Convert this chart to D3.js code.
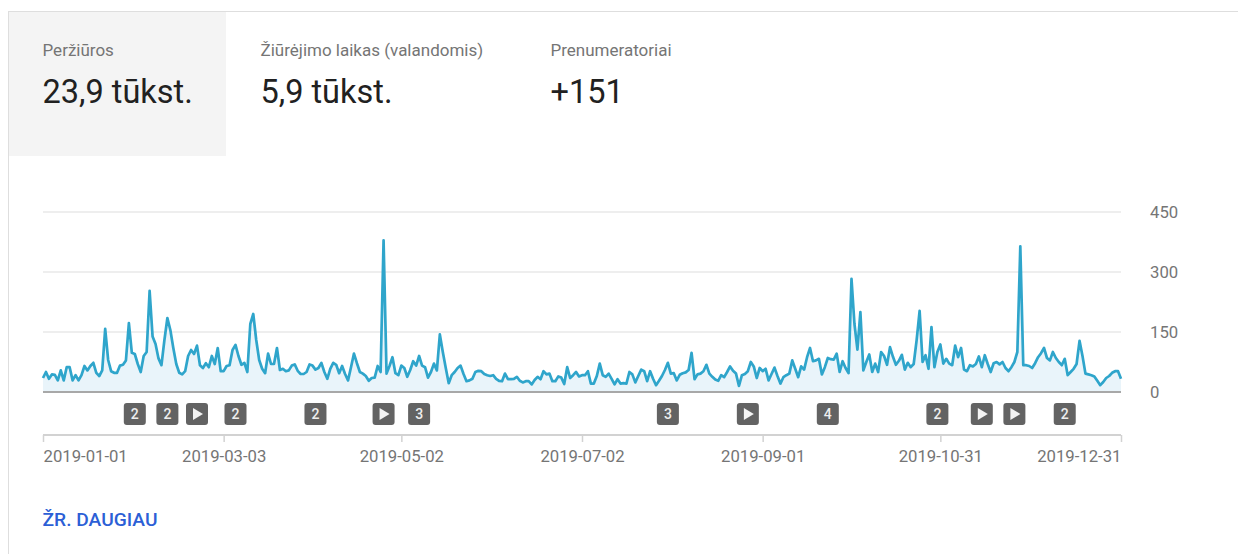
<!DOCTYPE html>
<html><head><meta charset="utf-8">
<script src="https://d3js.org/d3.v7.min.js"></script>
<style>
html,body{margin:0;padding:0;background:#fff;overflow:hidden}
svg{display:block}
text{font-family:Roboto,sans-serif}
.axisY .domain,.axisX .domain{display:none}
</style></head><body><svg id="c" width="1238" height="554"></svg>
<script>
const tabLabels = ["Peržiūros", "Žiūrėjimo laikas (valandomis)", "Prenumeratoriai"];
const tabValues = ["23,9 tūkst.", "5,9 tūkst.", "+151"];
const startDate = "2019-01-01";
const tickDates = ["2019-01-01","2019-03-03","2019-05-02","2019-07-02","2019-09-01","2019-10-31","2019-12-31"];
const yTicks = [0,150,300,450];
const moreLabel = "ŽR. DAUGIAU";
const markerDays = [31,42,52,65,92,115,127,211,238,265,302,317,328,345];
const markerLabels = ["2","2","▶","2","2","▶","3","3","▶","4","2","▶","▶","2"];
const views = [
35,50,33,44,43,29,54,29,62,62,
29,42,29,42,65,54,65,73,48,40,
54,158,80,52,48,48,66,68,79,172,
98,95,70,50,90,100,253,139,120,84,
67,130,185,155,110,70,48,44,52,90,
105,95,116,67,60,72,62,90,70,110,
52,52,65,67,105,118,90,68,73,50,
170,195,130,80,58,47,96,70,70,110,
55,58,52,54,66,69,53,45,45,50,
69,66,56,60,73,50,33,58,73,68,
47,65,45,29,62,96,72,50,46,40,
28,35,36,65,50,379,46,65,87,47,
42,66,60,38,55,77,66,90,66,62,
36,50,71,54,144,100,60,22,42,50,
60,66,45,27,29,33,50,53,52,45,
42,40,42,33,28,27,46,32,32,33,
38,28,24,27,27,19,30,38,32,52,
44,46,27,27,39,36,20,62,35,42,
50,39,42,42,52,21,21,40,71,42,
38,46,33,19,32,21,22,21,50,44,
24,40,56,52,27,52,33,17,28,40,
55,73,46,47,29,43,47,49,55,98,
32,44,46,52,68,46,38,31,28,42,
37,50,64,53,46,15,42,45,52,75,
64,35,60,52,58,29,45,61,40,21,
37,42,46,79,58,37,64,56,87,110,
77,79,83,44,62,85,82,81,96,50,
77,60,47,283,170,106,200,54,75,94,
50,71,50,100,90,68,112,88,68,78,
93,56,73,62,70,130,203,75,92,58,
162,62,100,119,71,83,71,67,116,87,
110,56,52,67,64,70,89,62,92,70,
50,72,75,69,75,60,52,62,75,100,
364,67,67,65,60,72,87,97,110,85,
79,100,85,75,67,83,42,50,58,70,
128,90,46,44,42,39,28,17,25,35,
40,48,52,52,33
];

const parse = d3.utcParse("%Y-%m-%d");
const t0 = parse(startDate);
const dayDate = i => d3.utcDay.offset(t0, i);
const svg = d3.select("#c");

// card frame and selected tab
svg.append("rect").attr("x",8.5).attr("y",11.5).attr("width",1240).attr("height",560).attr("fill","#fff").attr("stroke","#dedede");
svg.append("rect").attr("x",9).attr("y",12).attr("width",217).attr("height",144).attr("fill","#f4f4f4");

const tabX = [42.5,260.5,550.5];
tabLabels.forEach((l,i)=>{
  svg.append("text").attr("x",tabX[i]).attr("y",56).attr("font-size",17).attr("fill","#757575").text(l);
  svg.append("text").attr("x",tabX[i]).attr("y",103).attr("font-size",32.5).attr("fill","#212121").text(tabValues[i]);
});

const x = d3.scaleUtc().domain([parse(tickDates[0]),parse(tickDates[6])]).range([43,1121]);
const y = d3.scaleLinear().domain([0,450]).range([392,212]);

// grid + y labels
const gy = svg.append("g").attr("class","axisY").attr("transform","translate(1121,0)")
  .call(d3.axisRight(y).tickValues(yTicks).tickSize(0).tickPadding(29));
gy.selectAll("text").attr("font-size",16.7).attr("fill","#757575").attr("font-family","Roboto");
svg.append("g").selectAll("line").data(yTicks).join("line")
  .attr("x1",43).attr("x2",1121).attr("y1",d=>y(d)).attr("y2",d=>y(d))
  .attr("stroke",d=>d===0?"#a8a8a8":"#eeeeee").attr("stroke-width",2);

// area and line
svg.append("path").datum(views).attr("fill","#e9f4fa")
  .attr("d",d3.area().x((d,i)=>x(dayDate(i))).y0(y(0)).y1(d=>y(d)));
svg.append("path").datum(views).attr("fill","none").attr("stroke","#2fa5cb").attr("stroke-width",2.7).attr("stroke-linejoin","round")
  .attr("d",d3.line().x((d,i)=>x(dayDate(i))).y(d=>y(d)));
svg.append("line").attr("x1",43).attr("x2",1121).attr("y1",y(0)).attr("y2",y(0)).attr("stroke","#a8a8a8").attr("stroke-width",2);

// markers
const m = svg.append("g").selectAll("g").data(markerDays).join("g")
  .attr("transform",d=>`translate(${x(dayDate(d))},414)`);
m.append("rect").attr("x",-11).attr("y",-11).attr("width",22).attr("height",22).attr("rx",3).attr("fill","#636363");
m.each(function(d,i){
  const g = d3.select(this), l = markerLabels[i];
  if(l==="▶") g.append("path").attr("d",d3.line()([[-4,-6],[6,0],[-4,6]])+"Z").attr("fill","#f4f4f4");
  else g.append("text").attr("text-anchor","middle").attr("y",5).attr("font-size",14).attr("font-weight",500).attr("fill","#eeeeee").text(l);
});

// time axis
svg.append("line").attr("x1",43).attr("x2",1121).attr("y1",435).attr("y2",435).attr("stroke","#d2d2d2").attr("stroke-width",2);
const gx = svg.append("g").attr("class","axisX").attr("transform","translate(0,435)")
  .call(d3.axisBottom(x).tickValues(tickDates.map(parse)).tickSize(7).tickPadding(8).tickFormat(d3.utcFormat("%Y-%m-%d")));
gx.selectAll("line").attr("stroke","#d2d2d2").attr("stroke-width",1.5);
gx.selectAll("text").attr("font-size",16.7).attr("fill","#757575").attr("font-family","Roboto")
  .attr("text-anchor",(d,i)=>i===0?"start":i===6?"end":"middle");

svg.append("text").attr("x",42.5).attr("y",526).attr("font-size",19.2).attr("font-weight",500).attr("fill","#2c5fd6").text(moreLabel);
</script></body></html>
